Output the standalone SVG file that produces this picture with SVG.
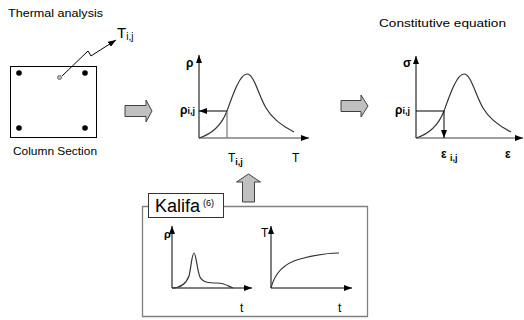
<svg xmlns="http://www.w3.org/2000/svg" width="524" height="320" viewBox="0 0 524 320">
<style>
.t{font-family:"Liberation Sans",Arial,sans-serif;fill:#000}
.ax{stroke:#000;stroke-width:1;fill:none}
.axg{stroke:#808080;stroke-width:1.5;fill:none}
.cv{stroke:#333;stroke-width:1.2;fill:none}
.blk{fill:#c0c0c0;stroke:#404040;stroke-width:1}
.g{font-weight:bold}
</style>
<defs>
<marker id="ah" markerWidth="8" markerHeight="6" refX="8" refY="3" orient="auto" markerUnits="userSpaceOnUse">
<path d="M0,0 L8,3 L0,6 z" fill="#000"/>
</marker>
<path id="bell" d="M199,138 C212,134 222,124 227,111 C233,94 240,74 247,74 C254,74 258,94 266,108 C273,120 284,127 294,132"/>
</defs>
<rect width="524" height="320" fill="#fff"/>

<g id="thermal">
<text class="t" x="8" y="17" font-size="11" textLength="95" lengthAdjust="spacingAndGlyphs">Thermal analysis</text>
<rect x="10.5" y="66.5" width="86" height="71" fill="#fff" stroke="#000" stroke-width="1"/>
<circle cx="19" cy="73" r="2.8" fill="#000"/>
<circle cx="85" cy="73" r="2.8" fill="#000"/>
<circle cx="19" cy="128" r="2.8" fill="#000"/>
<circle cx="85" cy="128" r="2.8" fill="#000"/>
<circle cx="59.5" cy="77.5" r="2" fill="#bbb" stroke="#555" stroke-width="0.8"/>
<text class="t" x="13" y="155" font-size="11" textLength="84" lengthAdjust="spacingAndGlyphs">Column Section</text>
<text class="t" x="117" y="38" font-size="15">T<tspan font-size="10" dy="2">i,j</tspan></text>
</g>

<g id="graph1">
<line class="ax" x1="199" y1="138" x2="199" y2="55" marker-end="url(#ah)"/>
<line class="axg" x1="199" y1="138" x2="309" y2="138" marker-end="url(#ah)"/>
<use href="#bell" class="cv"/>
<line x1="227" y1="111" x2="227" y2="138" stroke="#808080" stroke-width="1.3"/>
<line class="ax" x1="227" y1="111" x2="199" y2="111" marker-end="url(#ah)"/>
<text class="t g" x="186" y="67" font-size="12">ρ</text>
<text class="t g" x="180" y="114" font-size="12">ρ<tspan font-size="9">i,j</tspan></text>
<text class="t" x="228" y="162" font-size="12">T<tspan font-size="9" dy="3" font-weight="bold">i,j</tspan></text>
<text class="t" x="292" y="162" font-size="12">T</text>
</g>

<g id="graph2">
<text class="t" x="379" y="27" font-size="11" textLength="127" lengthAdjust="spacingAndGlyphs">Constitutive equation</text>
<line class="ax" x1="416" y1="138" x2="416" y2="56" marker-end="url(#ah)"/>
<line class="axg" x1="416" y1="138" x2="523" y2="138" marker-end="url(#ah)"/>
<use href="#bell" class="cv" transform="translate(217,0)"/>
<line class="ax" x1="416" y1="111" x2="444" y2="111"/>
<line class="ax" x1="444" y1="111" x2="444" y2="138" marker-end="url(#ah)"/>
<text class="t g" x="403" y="67" font-size="12">σ</text>
<text class="t g" x="395" y="114" font-size="12">ρ<tspan font-size="9">i,j</tspan></text>
<text class="t g" x="441" y="158" font-size="12">ε <tspan font-size="9" dy="3">i,j</tspan></text>
<text class="t g" x="505" y="158" font-size="12">ε</text>
</g>

<g id="kalifa">
<path d="M148.5,206.5 H142.5 V316.5 H367.5 V206.5 H224" fill="none" stroke="#808080" stroke-width="1.3"/>
<rect x="148.5" y="193.5" width="75" height="24" fill="#fff" stroke="#333" stroke-width="1"/>
<text class="t" x="155" y="212" font-size="18">Kalifa</text>
<text class="t" x="203" y="206" font-size="9">(6)</text>
<line class="ax" x1="172" y1="288" x2="172" y2="226" marker-end="url(#ah)"/>
<line class="ax" x1="172" y1="288" x2="252" y2="288" marker-end="url(#ah)"/>
<path class="cv" d="M172,288 C180,288 186,284 189,276 C191,268 192,253 194,253 C196,253 197,270 200,277 C203,283 210,283 217,283 C224,283 228,286 233,288"/>
<text class="t g" x="164" y="238" font-size="11">ρ</text>
<text class="t" x="240" y="312" font-size="12">t</text>
<line class="ax" x1="271" y1="288" x2="271" y2="226" marker-end="url(#ah)"/>
<line class="ax" x1="271" y1="288" x2="352" y2="288" marker-end="url(#ah)"/>
<path class="cv" d="M271,288 C275,272 285,263 300,259 C315,255 328,253 339,253"/>
<text class="t" x="261" y="237" font-size="12">T</text>
<text class="t" x="338" y="312" font-size="12">t</text>
</g>

<g id="connectors">
<path d="M62,76 L88,51 L91,56 L94,54 L116,40" fill="none" stroke="#000" stroke-width="1" marker-end="url(#ah)"/>
<polygon class="blk" points="125,105.5 146,105.5 146,100 152,111 146,122 146,116.5 125,116.5"/>
<polygon class="blk" points="341,100.5 361,100.5 361,95 368,106 361,117 361,111.5 341,111.5"/>
<polygon class="blk" points="242.5,202 242.5,182 236.5,182 248.5,174 260.5,182 254.5,182 254.5,202"/>
</g>
</svg>
